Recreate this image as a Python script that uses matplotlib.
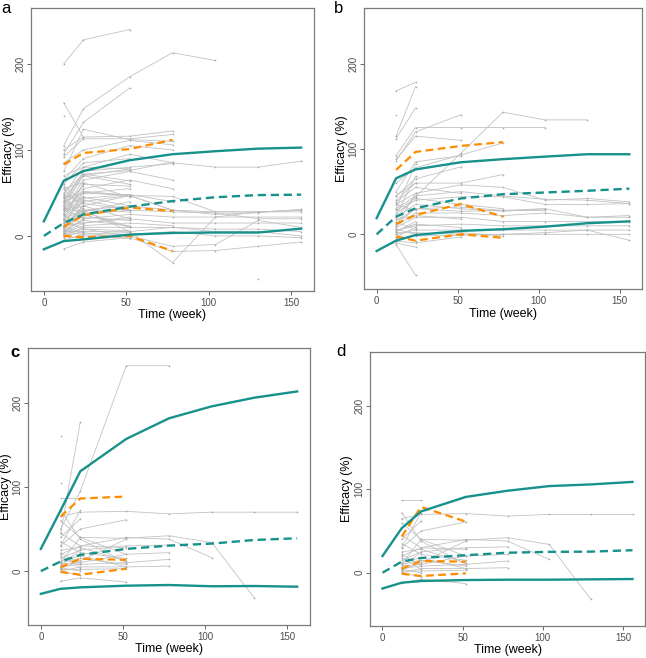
import numpy as np
import matplotlib
matplotlib.use("Agg")
import matplotlib.pyplot as plt

plt.rcParams['font.family'] = ['Liberation Sans', 'DejaVu Sans']

############################## DATOS ##############################
t_obs = [12, 24, 52, 78, 104, 130, 156]          # semanas de observacion
t_sim = [0, 12, 24, 52, 78, 104, 130, 156]       # semanas de simulacion

# percentiles del modelo (5, 50, 95) -> lineas verdes
sim_hi = {'a': [17, 64, 75.5, 88, 95, 98.5, 101.5, 102.7],
          'b': [19, 65.6, 76, 84.4, 88, 91, 93.8, 93.8],
          'c': [26.4, 72, 118.5, 157, 181.5, 195.7, 206, 213.4],
          'd': [20, 53.4, 73.5, 91, 98.4, 104, 106, 109]}
sim_med = {'a': [0, 15, 25, 34, 40.5, 45, 47.5, 48],
           'b': [0, 20.7, 30.5, 42, 47, 49, 51, 53.5],
           'c': [0, 11.4, 19.3, 26.4, 30.3, 32.7, 37, 39],
           'd': [0, 13.3, 17.7, 21, 24, 25, 25.3, 27]}
sim_lo = {'a': [-15.5, -6, -4, 1.5, 3.5, 4, 4, 8.5],
          'b': [-19.5, -7.4, -0.8, 4, 6, 9, 13, 15.2],
          'c': [-27, -21, -19.3, -17.3, -16.5, -18, -17.7, -18.5],
          'd': [-19, -12, -10, -8.8, -8.4, -8.4, -8, -7.6]}

# percentiles observados -> lineas naranjas
obs_hi = {'a': [83, 96.5, 101, 111.7], 'b': [75.4, 96.5, 103.5, 108],
          'c': [64.6, 86.2, 88.6], 'd': [43.4, 79, 61.4]}
obs_med = {'a': [10.5, 24, 33, 29], 'b': [12, 22.6, 35.5, 20.7],
           'c': [4.7, 14.6, 13.4], 'd': [4.8, 14, 13.3]}
obs_lo = {'a': [0, -1.5, 0, -17.5], 'b': [-2.7, -7.4, 0, -4],
          'c': [-1, -4.3, 2.8], 'd': [-1.2, -4, -0.8]}

# pacientes individuales (valores en t_obs, None = sin dato)
gray_a = [
    [200, 228, 240], [155, 115], [140], [105, 148, 185, 213, 204],
    [95, 132, 172], [100, 115, 116, 122], [92, 113, 113, 118],
    [75, 124, 112, 110], [85, 100, 111, 106], [65, 90, 105, 100],
    [48, 80, 95, 85, 80, 80, 87], [40, 75, 80, 84], [35, 70, 78],
    [38, 72, 76, 86], [30, 65, 75, 65], [25, 55, 65, 55],
    [45, 50, 47, 46, 28, 28, 30], [20, 40, 47, 30, 28, 28, 28],
    [15, 30, 35, 30, 25, 27, 31], [10, 25, 30, 28, 27, 20, 20],
    [5, 20, 25, 22, 22, 22, 22], [12, 15, 20, 15, 15, 15, 15],
    [0, 10, 10, 10, 8, 8, 5], [5, 5, 5, 10, 5, 5, 0],
    [-15, -7, -2, -18, -17, -12, -7], [10, 30, 5, -31, 22, 28, 30],
    [None, None, None, None, None, -50], [0, -3, 2, 5, 0, 0, -2],
    [18, 8, 0, -12, -10, 18, 10], [30, 50, 48, 40], [12, 35, 47, 30],
    [8, 28, 40], [25, 60, 58], [35, 45, 35], [3, 12, 15, 12],
    [20, 30, 28], [15, 25, 10], [45, 70, 60], [60, 85, 90], [55, 62, 45],
    [2, 8, 6], [4, 15, 22], [30, 38, 30], [18, 22, 18], [40, 50, 55],
    [50, 72, 64], [8, 0, 2], [-5, 2, 4], [22, 44, 48], [28, 35, 20],
    [6, 18, 12], [10, 52, 47], [16, 42, 30], [33, 28, 10], [1, 4, -3],
    [70, 80, 78], [55, 30], [14, 24], [9, 33], [24, 14], [42, 20],
    [-2, 6], [36, 58], [48, 38], [26, 46], [32, 20], [7, 36], [11, 3],
    [19, 62], [44, 26], [58, 40], [3, 28],
]
gray_b = [
    [168, 178], [115, 173], [140], [112, 148], [92, 125, 125, 125, 125],
    [88, 115, 110], [86, 120, 140], [20, 44, 95, 143, 134, 134],
    [60, 78, 93, 107], [45, 65, 79], [40, 60, 60, 70],
    [35, 48, 58, 55, 40, 42, 38], [30, 45, 50, 45, 41, 40, 36],
    [25, 40, 44, 44, 35, 35, 36], [20, 35, 30, 27, 30, 20, 22],
    [15, 30, 27, 28, 28], [10, 25, 25, 22, 25, 20, 20],
    [8, 20, 20, 15, 15, 15, 15], [5, 10, 12, 10, 10, 10, 10],
    [0, 5, 5, 5, 5, 5, 5], [2, 2, 0, 0, 0, 0, 0],
    [-5, -2, -1, 0, 2, 5, -7], [-10, -15], [-12, -48], [-8, -10, -3],
    [50, 85, 92], [38, 55, 48], [28, 42, 35, 30], [12, 30, 32, 28, 30],
    [18, 22, 18], [4, 12, 8], [6, 0, 2, -2], [30, 82], [22, 68],
    [10, 48], [3, 15], [-3, 8], [14, 6], [35, 28], [45, 60], [0, -8],
]
gray_cd = [
    [87, 87], [65, 70, 71, 68, 70, 70, 70], [30, 50, 61],
    [10, 40, 39, 42, 34, -32], [20, 30, 40, 38, 16], [15, 25, 30, 31],
    [8, 10, 20, 22], [5, 8, 10, 14], [0, 5, 5, 6], [-12, -8, -13],
    [2, 2, 3], [10, 15, 8], [72, 38, 10], [60, 40, 20], [45, 30, 28],
    [35, 22, 15], [25, 28, 12], [3, 12, 38], [12, 18, 5], [40, 62],
    [30, 72], [6, 25], [0, -5], [18, 4], [22, 8], [4, 0],
]
gray_c_extra = [[105], [160], [45, 177], [50, 95, 244, 244]]

gray = {'a': gray_a, 'b': gray_b, 'c': gray_cd + gray_c_extra, 'd': gray_cd}

############################## FIGURA ##############################
W, H = 646, 658
fig = plt.figure(figsize=(W / 100, H / 100), dpi=100)

# posiciones de los paneles en pixeles (izq, arriba, der, abajo)
cajas = {'a': (31, 8, 314, 291), 'b': (364, 8, 642, 289),
         'c': (28, 348, 310, 625), 'd': (370, 352, 645, 626)}
letras = {'a': (1, 1), 'b': (334, 1), 'c': (10, 345), 'd': (336, 344)}
# centro del ylabel (x) y del xlabel (y) en pixeles
ylab_x = {'a': 9, 'b': 342, 'c': 6, 'd': 347}
xlab_y = {'a': 315, 'b': 314, 'c': 649, 'd': 650}

teal = '#17918b'
naranja = '#ff8c00'

for k in ['a', 'b', 'c', 'd']:
    l, t, r, b = cajas[k]
    ax = fig.add_axes([l / W, 1 - b / H, (r - l) / W, (b - t) / H])

    for vals in gray[k]:
        v = np.array([np.nan if x is None else x for x in vals], dtype=float)
        tt = t_obs[:len(v)]
        ax.plot(tt, v, color='#c2c2c2', lw=0.6, zorder=1)
        ax.plot(tt, v, 'o', color='#a8a8a8', ms=1.2, mew=0, zorder=1)

    n = len(obs_hi[k])
    for serie in [obs_hi, obs_med, obs_lo]:
        ax.plot(t_obs[:n], serie[k], color=naranja, lw=1.6,
                dashes=(3.5, 2), zorder=3)

    ax.plot(t_sim, sim_hi[k], color=teal, lw=1.7, zorder=4)
    ax.plot(t_sim, sim_med[k], color=teal, lw=1.7, dashes=(3.5, 2), zorder=4)
    ax.plot(t_sim, sim_lo[k], color=teal, lw=1.7, zorder=4)

    ax.set_xlim(-7.8, 163.8)
    ax.set_ylim(-64, 265)
    ax.set_xticks([0, 50, 100, 150])
    ax.set_yticks([0, 100, 200])
    ax.tick_params(labelsize=7, colors='#4d4d4d', length=3, width=0.6)
    ax.tick_params(axis='y', pad=1)
    ax.tick_params(axis='x', pad=2)
    for lab in ax.get_yticklabels():
        lab.set_rotation(90)
        lab.set_va('center')
    for s in ax.spines.values():
        s.set_color('#7a7a7a')
        s.set_linewidth(0.9)

    fig.text(ylab_x[k] / W, 1 - ((t + b) / 2) / H, 'Efficacy (%)', fontsize=9,
             rotation=90, ha='center', va='center')
    fig.text(((l + r) / 2) / W, 1 - xlab_y[k] / H, 'Time (week)', fontsize=9,
             ha='center', va='center')

    x0, y0 = letras[k]
    fig.text(x0 / W, 1 - y0 / H, k, fontsize=12, va='top', ha='left',
             fontweight='bold' if k == 'c' else 'normal')

fig.savefig('out.png', dpi=100)
